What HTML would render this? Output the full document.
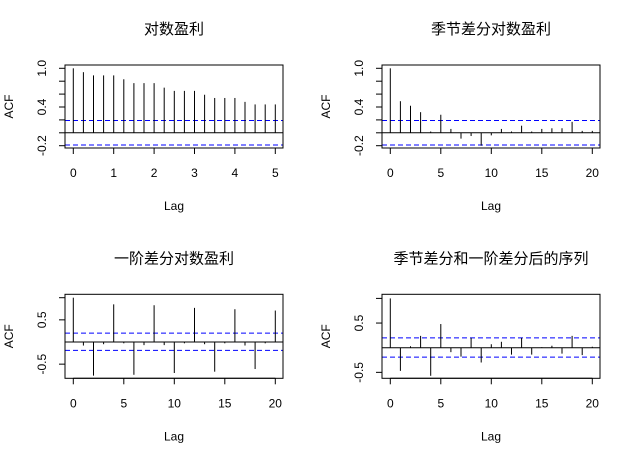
<!DOCTYPE html>
<html><head><meta charset="utf-8"><style>
html,body{margin:0;padding:0;background:#fff;}
svg{display:block;}
text{font-family:"Liberation Sans","Noto Sans CJK SC",sans-serif;fill:#000;}
</style></head><body>
<svg id="fig" width="634" height="460" viewBox="0 0 634 460" xmlns="http://www.w3.org/2000/svg"></svg>
<script>
// Panel data (ACF values)
const lags1 = [0,0.25,0.5,0.75,1,1.25,1.5,1.75,2,2.25,2.5,2.75,3,3.25,3.5,3.75,4,4.25,4.5,4.75,5];
const acf1 = [1.0,0.94,0.89,0.89,0.89,0.83,0.77,0.77,0.77,0.70,0.65,0.65,0.65,0.59,0.54,0.54,0.54,0.48,0.44,0.44,0.44];
const lags20 = [0,1,2,3,4,5,6,7,8,9,10,11,12,13,14,15,16,17,18,19,20];
const acf2 = [1.0,0.49,0.42,0.32,0.02,0.28,0.06,-0.09,-0.05,-0.2,-0.04,0.06,0.02,0.11,0.02,0.06,0.07,0.07,0.17,0.03,0.03];
const acf3 = [1.0,-0.08,-0.76,-0.05,0.85,-0.03,-0.74,-0.07,0.83,-0.07,-0.70,-0.03,0.77,-0.05,-0.67,-0.03,0.74,-0.08,-0.61,-0.03,0.71];
const acf4 = [1.0,-0.47,0.03,0.24,-0.57,0.48,-0.09,-0.18,0.2,-0.3,0.07,0.12,-0.14,0.2,-0.14,0.01,0.04,-0.12,0.24,-0.15,0.02];
const titles = ["对数盈利","季节差分对数盈利","一阶差分对数盈利","季节差分和一阶差分后的序列"];
const ci1 = [0.19,-0.19], ci2 = [0.19,-0.19], ci3 = [0.2,-0.19], ci4 = [0.2,-0.19];
const xt1 = [0,1,2,3,4,5], xt20 = [0,5,10,15,20];
const yt1 = [-0.2,0,0.2,0.4,0.6,0.8,1.0], yl1 = ["-0.2","0.4","1.0"];
const yt3 = [-0.5,0.5,1.0], yl3 = ["-0.5","0.5"];

const NS = "http://www.w3.org/2000/svg";
const svg = document.getElementById('fig');
function mk(tag, attrs, parent){const e=document.createElementNS(NS,tag);for(const k in attrs)e.setAttribute(k,attrs[k]);(parent||svg).appendChild(e);return e;}

function panel(cfg){
  const g = mk('g',{});
  
  
  const L=cfg.box[0], R=cfg.box[1], T=cfg.box[2], B=cfg.box[3];
  const sx = v => cfg.x0 + (v - cfg.xd[0])/(cfg.xd[1]-cfg.xd[0])*(cfg.x1-cfg.x0);
  const sy = v => cfg.y0 - v*cfg.ys;
  const t = mk('text',{x:(L+R)/2,y:T-31,'text-anchor':'middle','font-size':15},g);
  t.textContent = cfg.title;
  
  
  cfg.ci.forEach(c=>{
    const l=mk('line',{x1:L,x2:R,y1:sy(c),y2:sy(c),stroke:'#0000ff','stroke-width':1,'stroke-dasharray':'5,3'},g);
    
    
  });
  const z=mk('line',{x1:L,x2:R,y1:sy(0),y2:sy(0),stroke:'#000','stroke-width':1},g);
  
  
  cfg.lags.forEach((lg,i)=>{
    const b=mk('line',{x1:sx(lg),x2:sx(lg),y1:sy(0),y2:sy(cfg.vals[i]),stroke:'#000','stroke-width':1},g);
    
    
  });
  const bx=mk('rect',{x:L,y:T,width:R-L,height:B-T,fill:'none',stroke:'#000','stroke-width':1},g);
  
  
  const xa=mk('g',{},g);
  
  
  mk('line',{x1:sx(cfg.xt[0]),x2:sx(cfg.xt[cfg.xt.length-1]),y1:B,y2:B,stroke:'#000'},xa);
  cfg.xt.forEach(v=>{
    mk('line',{x1:sx(v),x2:sx(v),y1:B,y2:B+6,stroke:'#000'},xa);
    const tx=mk('text',{x:sx(v),y:B+29,'text-anchor':'middle','font-size':12},xa);
    tx.textContent=String(v);
  });
  const xl=mk('text',{x:(L+R)/2,y:B+62,'text-anchor':'middle','font-size':12},g);
  xl.textContent='Lag';
  
  
  const ya=mk('g',{},g);
  
  
  const ymin=Math.min(...cfg.yt), ymax=Math.max(...cfg.yt);
  mk('line',{x1:L,x2:L,y1:sy(ymin),y2:sy(ymax),stroke:'#000'},ya);
  cfg.yt.forEach(v=>{ mk('line',{x1:L-6,x2:L,y1:sy(v),y2:sy(v),stroke:'#000'},ya); });
  cfg.yl.forEach(s=>{
    const v=parseFloat(s), X=L-19, Y=sy(v);
    const tx=mk('text',{x:X,y:Y,'text-anchor':'middle','font-size':12,transform:`rotate(-90 ${X} ${Y})`},ya);
    tx.textContent=s;
  });
  const YX=L-52, YY=(T+B)/2;
  const yl=mk('text',{x:YX,y:YY,'text-anchor':'middle','font-size':12,transform:`rotate(-90 ${YX} ${YY})`},g);
  yl.textContent='ACF';
  
  
}

panel({name:'panel-log-earnings',title:titles[0],box:[65,283,65,148],x0:73.3,x1:275.3,xd:[0,5],xt:xt1,y0:132.8,ys:64.5,yt:yt1,yl:yl1,lags:lags1,vals:acf1,ci:ci1});
panel({name:'panel-seasonal-diff',title:titles[1],box:[382,600,65,148],x0:390.3,x1:592.3,xd:[0,20],xt:xt20,y0:132.8,ys:64.5,yt:yt1,yl:yl1,lags:lags20,vals:acf2,ci:ci2});
panel({name:'panel-first-diff',title:titles[2],box:[65,283,294.3,378.3],x0:73.3,x1:275.3,xd:[0,20],xt:xt20,y0:342,ys:44.3,yt:yt3,yl:yl3,lags:lags20,vals:acf3,ci:ci3});
panel({name:'panel-both-diff',title:titles[3],box:[382,600,294.3,378.3],x0:390.3,x1:592.3,xd:[0,20],xt:xt20,y0:347.7,ys:49.3,yt:yt3,yl:yl3,lags:lags20,vals:acf4,ci:ci4});
</script>
</body></html>
